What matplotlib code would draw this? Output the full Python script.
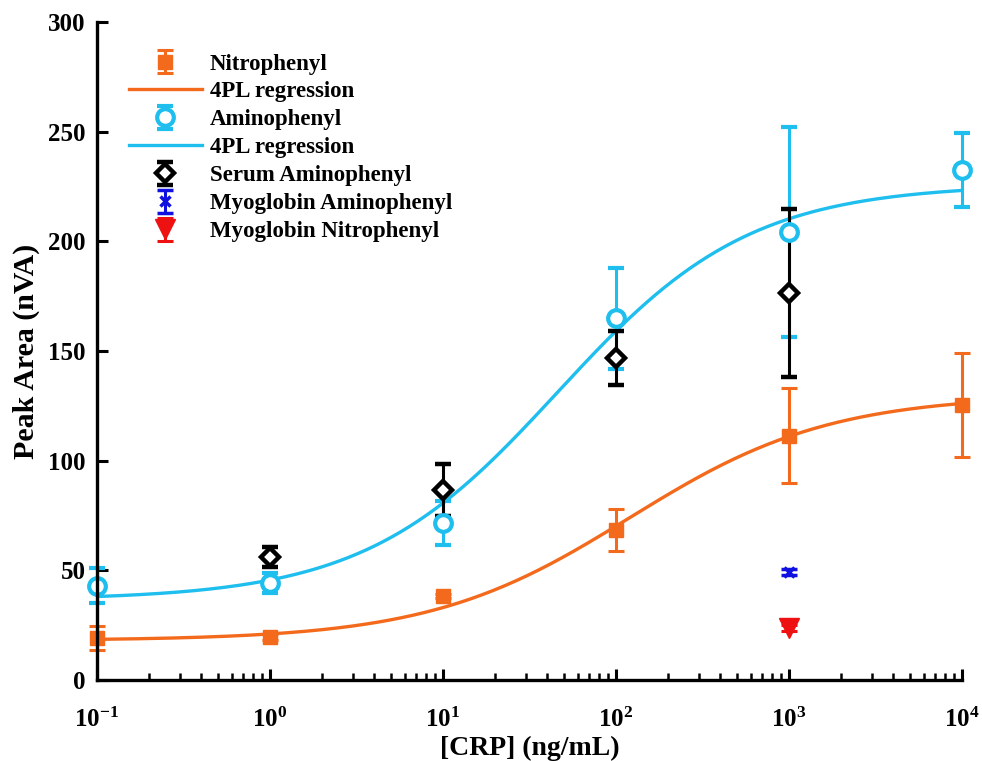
"""Peak area vs CRP concentration with 4PL regression curves."""
import numpy as np
import matplotlib
matplotlib.use("Agg")
import matplotlib.pyplot as plt

# data
conc = [0.1, 1, 10, 100, 1000, 10000]
nitro_mean = [19.2, 19.6, 38.3, 68.4, 111.3, 125.4]
nitro_err = [5.5, 1.2, 1.0, 9.5, 21.7, 23.7]
amino_mean = [42.9, 44.2, 71.6, 165.0, 204.3, 232.6]
amino_err = [8.0, 4.5, 10.0, 23.0, 48.0, 17.0]
serum_conc = [1, 10, 100, 1000]
serum_mean = [56.1, 86.6, 146.8, 176.5]
serum_err = [4.5, 12.0, 12.3, 38.3]
myo_conc = [1000]
myo_amino_mean = [49.2]
myo_amino_err = [1.5]
myo_nitro_mean = [23.7]
myo_nitro_err = [1.5]

# 4PL parameters: bottom, top, EC50, hill
nitro_4pl = (18.0, 130.0, 120.0, 0.75)
amino_4pl = (36.5, 226.0, 46.0, 0.78)

ORANGE = "#F36A1C"
CYAN = "#1EBEEE"


def four_pl(x, bottom, top, ec50, hill):
    return top + (bottom - top) / (1 + (x / ec50) ** hill)


plt.rcParams["font.family"] = ["Liberation Serif", "DejaVu Serif"]
plt.rcParams["font.weight"] = "bold"
plt.rcParams["axes.labelweight"] = "bold"
plt.rcParams["axes.unicode_minus"] = False
plt.rcParams["mathtext.fontset"] = "custom"
plt.rcParams["mathtext.rm"] = "Liberation Serif:bold"
plt.rcParams["mathtext.bf"] = "Liberation Serif:bold"

fig = plt.figure(figsize=(9.82, 7.61), dpi=100)
ax = fig.add_axes([0.0988, 0.1064, 0.8808, 0.8647])

xfit = np.logspace(-1, 4, 300)
eb = dict(capsize=6, elinewidth=2.2, capthick=2.2, linestyle="none")

h_nitro = ax.errorbar(conc, nitro_mean, yerr=nitro_err, marker="s", ms=10,
                      color=ORANGE, label="Nitrophenyl", **eb)
h_nitro_fit, = ax.plot(xfit, four_pl(xfit, *nitro_4pl), color=ORANGE, lw=2.4,
                       label="4PL regression")
h_amino = ax.errorbar(conc, amino_mean, yerr=amino_err, marker="o", ms=12,
                      mfc="white", mew=3, color=CYAN, label="Aminophenyl", **eb)
h_amino_fit, = ax.plot(xfit, four_pl(xfit, *amino_4pl), color=CYAN, lw=2.4,
                       label="4PL regression")
h_serum = ax.errorbar(serum_conc, serum_mean, yerr=serum_err, marker="D", ms=9,
                      mfc="white", mew=3.2, color="black",
                      label="Serum Aminophenyl", **eb)
h_myo_a = ax.errorbar(myo_conc, myo_amino_mean, yerr=myo_amino_err, marker="x",
                      ms=7, mew=2.5, color="#1010E0",
                      label="Myoglobin Aminophenyl", **eb)
h_myo_n = ax.errorbar(myo_conc, myo_nitro_mean, yerr=myo_nitro_err, marker="v",
                      ms=14, color="#EE1111", label="Myoglobin Nitrophenyl", **eb)

# points on the axis edges are drawn whole, as in the original
for h in (h_nitro, h_amino):
    for artist in h.lines[0:1] + h.lines[1] + h.lines[2]:
        artist.set_clip_on(False)

ax.set_xscale("log")
ax.set_xlim(0.1, 10000)
ax.set_ylim(0, 300)
ax.set_yticks([0, 50, 100, 150, 200, 250, 300])
ax.set_xlabel("[CRP] (ng/mL)", fontsize=20, labelpad=3)
ax.set_ylabel("Peak Area (nVA)", fontsize=21.5, labelpad=6)

for side in ("top", "right"):
    ax.spines[side].set_visible(False)
for side in ("left", "bottom"):
    ax.spines[side].set_linewidth(2.4)
ax.tick_params(which="major", direction="in", length=8, width=2.2,
               labelsize=18, pad=8)
ax.tick_params(axis="x", which="major", pad=20)
ax.tick_params(which="minor", direction="in", length=5, width=1.8)
ax.tick_params(axis="y", which="minor", left=False)

handles = [h_nitro, h_nitro_fit, h_amino, h_amino_fit, h_serum, h_myo_a, h_myo_n]
ax.legend(handles=handles, labels=[h.get_label() for h in handles],
          loc="upper left", bbox_to_anchor=(0.026, 0.966), frameon=False,
          fontsize=16.5, labelspacing=0.3, handlelength=3.2,
          handletextpad=0.35, borderaxespad=0)

fig.savefig("out.png", dpi=100)
